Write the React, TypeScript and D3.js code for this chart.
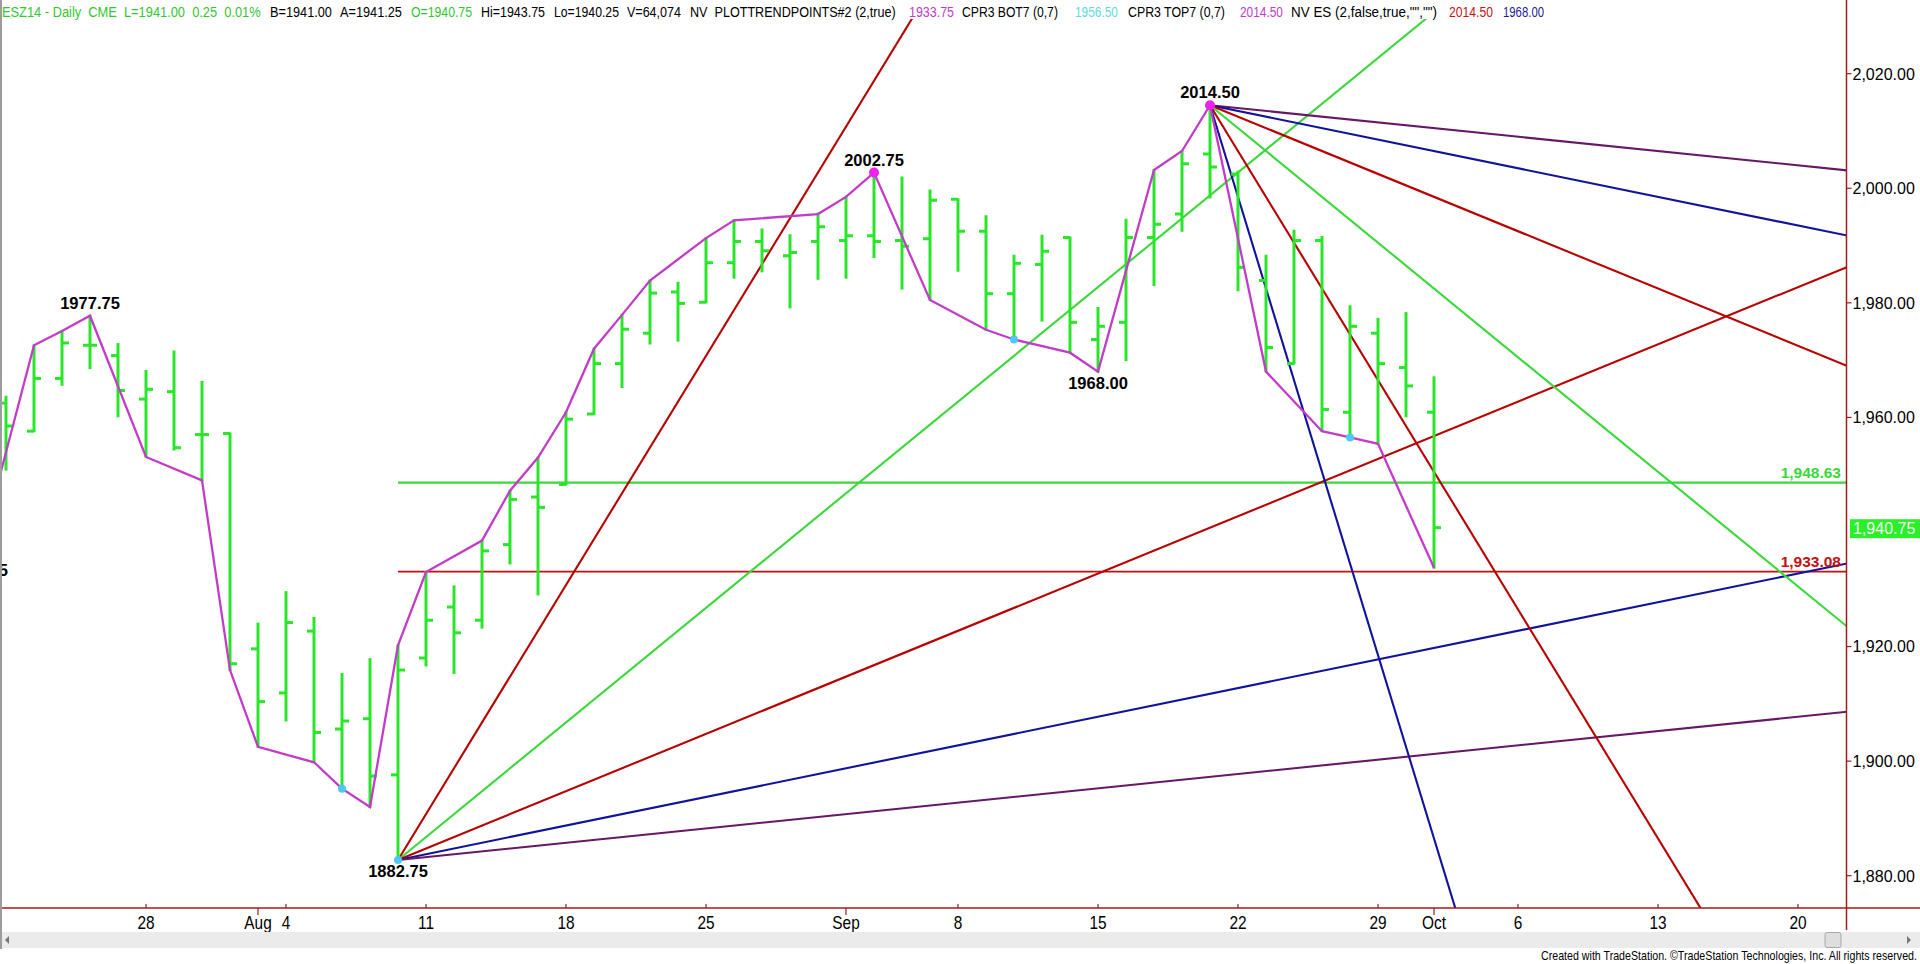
import React from "react";
import * as d3 from "d3";

// ---------- data ----------
const tradingDays = [
  "07-21","07-22","07-23","07-24","07-25","07-28","07-29","07-30","07-31","08-01",
  "08-04","08-05","08-06","08-07","08-08","08-11","08-12","08-13","08-14","08-15",
  "08-18","08-19","08-20","08-21","08-22","08-25","08-26","08-27","08-28","08-29",
  "09-02","09-03","09-04","09-05","09-08","09-09","09-10","09-11","09-12","09-15",
  "09-16","09-17","09-18","09-19","09-22","09-23","09-24","09-25","09-26","09-29",
  "09-30","10-01","10-02","10-03","10-06","10-07","10-08","10-09","10-10","10-13",
  "10-14","10-15","10-16","10-17","10-20","10-21","10-22","10-23",
];

const opens = [1962.5,1957.6,1966.8,1972.6,1970.8,1963.2,1964.5,1957.0,1957.2,1919.6,
  1911.9,1922.7,1905.6,1907.4,1897.6,1918.0,1926.9,1924.6,1937.8,1946.1,
  1948.3,1960.6,1969.4,1974.7,1981.9,1980.1,1987.0,1990.7,1988.2,1990.7,
  1990.9,1991.7,1990.9,1991.2,1998.1,1992.5,1981.6,1986.7,1991.4,1973.6,
  1976.6,1991.4,1995.5,2006.0,2002.5,1983.9,1969.4,1990.9,1960.9,1974.7,
  1968.7,1960.9];
const highs = [1963.6,1972.6,1975.1,1977.75,1972.8,1968.1,1971.5,1966.2,1957.2,1924.0,
  1929.5,1925.0,1915.2,1917.8,1920.2,1933.0,1930.5,1938.5,1947.2,1953.0,
  1960.9,1972.0,1977.9,1983.9,1983.5,1991.3,1994.4,1992.8,1991.8,1995.6,
  1998.5,2002.75,2001.9,1999.6,1998.1,1995.1,1988.2,1991.7,1991.4,1979.1,
  1994.5,2003.2,2006.5,2014.5,2002.9,1988.2,1992.6,1991.5,1979.4,1977.2,
  1978.2,1967.0];
const lows = [1950.9,1957.6,1965.7,1968.6,1960.2,1953.1,1954.4,1949.0,1915.9,1902.5,
  1907.1,1899.8,1895.2,1892.0,1882.75,1916.7,1915.4,1923.3,1934.5,1929.1,
  1948.3,1960.6,1965.3,1972.9,1973.4,1980.1,1984.4,1985.5,1979.2,1984.2,
  1984.4,1988.0,1982.5,1980.5,1985.6,1975.3,1973.6,1976.9,1971.3,1968.0,
  1970.0,1983.1,1992.6,1998.4,1982.2,1968.0,1969.4,1957.6,1956.5,1955.4,
  1960.2,1933.75];
const closes = [1958.5,1966.8,1973.0,1972.6,1964.7,1964.9,1954.7,1957.0,1917.0,1910.4,
  1924.2,1905.0,1907.0,1897.4,1915.9,1924.6,1922.4,1936.7,1945.7,1944.3,
  1959.7,1969.4,1975.4,1981.7,1979.9,1987.0,1990.7,1989.1,1988.8,1993.3,
  1991.7,1990.7,1989.9,1997.9,1992.5,1981.6,1986.9,1989.0,1976.6,1975.9,
  1991.4,1993.7,2004.3,2003.7,1986.2,1972.2,1990.9,1961.4,1975.9,1969.4,
  1965.5,1940.75];

const swingIdx = [-1,1,2,3,5,7,8,9,11,12,13,14,15,17,18,19,20,21,22,23,25,26,29,30,31,33,35,36,38,39,41,42,43,45,47,48,49,51];
const swingVals = [1935.25,1972.6,1975.1,1977.75,1953.1,1949.0,1915.9,1902.5,1899.8,1895.2,1892.0,1920.2,1933.0,1938.5,1947.2,1953.0,1960.9,1972.0,1977.9,1983.9,1991.3,1994.4,1995.5,1998.5,2002.75,1980.5,1975.3,1973.6,1971.3,1968.0,2003.2,2006.5,2014.5,1968.0,1957.6,1956.5,1955.4,1933.75];

const pinkDotIdx = [31, 43];
const pinkDotVals = [2002.75, 2014.5];
const cyanDotIdx = [12, 14, 36, 48];
const cyanDotVals = [1895.2, 1882.75, 1973.6, 1956.5];

const pivotLabelIdx = [-1, 3, 14, 31, 39, 43];
const pivotLabelVals = [1935.25, 1977.75, 1882.75, 2002.75, 1968.0, 2014.5];
const pivotLabelSide = ["below", "above", "below", "above", "below", "above"];

const lowAnchorIdx = 14;
const lowAnchorVal = 1882.75;
const lowFanRates = [8, 4, 2, 1, 0.5];
const highAnchorIdx = 43;
const highAnchorVal = 2014.5;
const highFanRates = [-0.5, -1, -2, -4, -8, -16];

const levelValues = [1948.63, 1933.08];
const levelStartIdx = 14;
const lastPrice = 1940.75;

const priceTicks = [1880, 1900, 1920, 1940, 1960, 1980, 2000, 2020];
const weekTickDays = ["07-28","08-04","08-11","08-18","08-25","09-08","09-15","09-22","09-29","10-06","10-13","10-20"];
const weekTickLabels = ["28","4","11","18","25","8","15","22","29","6","13","20"];
const monthTickDays = ["08-01","09-02","10-01"];
const monthTickLabels = ["Aug","Sep","Oct"];

const headerTexts = [
  "ESZ14 - Daily  CME  L=1941.00  0.25  0.01%", "B=1941.00", "A=1941.25", "O=1940.75",
  "Hi=1943.75", "Lo=1940.25", "V=64,074", "NV  PLOTTRENDPOINTS#2 (2,true)", "1933.75",
  "CPR3 BOT7 (0,7)", "1956.50", "CPR3 TOP7 (0,7)", "2014.50", 'NV ES (2,false,true,"","")',
  "2014.50", "1968.00",
];
const footerText = "Created with TradeStation. ©TradeStation Technologies, Inc. All rights reserved.";

// ---------- styles / layout ----------
const headerX = [2, 270, 340, 411, 481, 554, 627, 690, 909, 962, 1075, 1128, 1240, 1291, 1449, 1503];
const headerW = [259, 62, 62, 61, 64, 65, 54, 206, 45, 96, 43, 97, 43, 146, 44, 41];
const headerColors = ["#33c633", "#000", "#000", "#33c633", "#000", "#000", "#000", "#000", "#c33cc8",
  "#000", "#5fdcdc", "#000", "#c33cc8", "#000", "#cc1111", "#1c1c8e"];

const GREEN_BAR = "#2ae62a";
const MAGENTA = "#c33cc8";
const LGREEN = "#3ad83a";
const DRED = "#b80000";
const NAVY = "#12129c";
const PURPLE = "#661866";
const AXIS = "#a31a1a";
const lowFanColors = [DRED, LGREEN, DRED, NAVY, PURPLE];
const highFanColors = [PURPLE, NAVY, DRED, LGREEN, DRED, NAVY];
const levelColors = [LGREEN, "#c41010"];

const W = 1920;
const H = 964;
const PLOT_L = 2;
const PLOT_R = 1846.5;
const PLOT_T = 19;
const PLOT_B = 908;
const FONT = "'Liberation Sans', Arial, sans-serif";

function FitText(props: { x: number; y: number; w: number; fontSize: number; fill: string; children: string }) {
  const ref = React.useRef<SVGTextElement>(null);
  const [s, setS] = React.useState(1);
  React.useLayoutEffect(() => {
    if (ref.current) {
      const len = ref.current.getComputedTextLength();
      if (len > 0) setS(props.w / len);
    }
  }, [props.w, props.children]);
  return (
    <text ref={ref} transform={`translate(${props.x},${props.y}) scale(${s},1)`} fontSize={props.fontSize}
      fill={props.fill} style={{ whiteSpace: "pre" }}>
      {props.children}
    </text>
  );
}

export default function App() {
  const x = d3.scaleLinear().domain([0, 64]).range([6, 1798]);
  const y = d3.scaleLinear().domain([1880, 2020]).range([875.7, 73.7]);
  const di = (d: string) => tradingDays.indexOf(d);

  const swingLine = d3
    .line<number>()
    .x((_, k) => x(swingIdx[k]))
    .y((v) => y(v))(swingVals) as string;

  const fmt = d3.format(",.2f");
  const tickLen = 7;

  return (
    <svg
      width={W}
      height={H}
      style={{ position: "absolute", left: 0, top: 0, background: "#fff", display: "block" }}
      fontFamily={FONT}
    >
      <defs>
        <clipPath id="plot">
          <rect x={PLOT_L} y={PLOT_T} width={PLOT_R - PLOT_L} height={PLOT_B - PLOT_T} />
        </clipPath>
      </defs>
      <rect x={0} y={0} width={W} height={H} fill="#fff" />

      <g clipPath="url(#plot)">
        {levelValues.map((v, k) => (
          <line key={"lv" + k} x1={x(levelStartIdx)} x2={PLOT_R} y1={y(v)} y2={y(v)}
            stroke={levelColors[k]} strokeWidth={k === 0 ? 2.2 : 1.8} />
        ))}
        {lowFanRates.map((r, k) => (
          <line key={"lf" + k} x1={x(lowAnchorIdx)} y1={y(lowAnchorVal)}
            x2={x(lowAnchorIdx + 60)} y2={y(lowAnchorVal + r * 60)}
            stroke={lowFanColors[k]} strokeWidth={2.1} />
        ))}
        {highFanRates.map((r, k) => (
          <line key={"hf" + k} x1={x(highAnchorIdx)} y1={y(highAnchorVal)}
            x2={x(highAnchorIdx + 40)} y2={y(highAnchorVal + r * 40)}
            stroke={highFanColors[k]} strokeWidth={2.1} />
        ))}
        {opens.map((o, i) => (
          <g key={"b" + i} stroke={GREEN_BAR} strokeWidth={3}>
            <line x1={x(i)} x2={x(i)} y1={y(highs[i]) - 1} y2={y(lows[i]) + 1} />
            <line x1={x(i) - tickLen} x2={x(i)} y1={y(o)} y2={y(o)} />
            <line x1={x(i)} x2={x(i) + tickLen} y1={y(closes[i])} y2={y(closes[i])} />
          </g>
        ))}
        <path d={swingLine} fill="none" stroke={MAGENTA} strokeWidth={2.3} />
        {cyanDotIdx.map((i, k) => (
          <circle key={"c" + k} cx={x(i)} cy={y(cyanDotVals[k])} r={4} fill="#4fc8f5" />
        ))}
        {pinkDotIdx.map((i, k) => (
          <circle key={"p" + k} cx={x(i)} cy={y(pinkDotVals[k])} r={5} fill="#ee22ee" />
        ))}
      </g>

      {pivotLabelIdx.map((i, k) => (
        <text key={"pl" + k} x={x(i)} y={y(pivotLabelVals[k]) + (pivotLabelSide[k] === "above" ? -7 : 17)}
          textAnchor="middle" fontSize={16.5} fontWeight="bold" fill="#000">
          {pivotLabelVals[k].toFixed(2)}
        </text>
      ))}

      {levelValues.map((v, k) => (
        <text key={"ll" + k} x={1841} y={y(v) - 5} textAnchor="end" fontSize={15.5}
          fontWeight="bold" fill={levelColors[k]}>
          {fmt(v)}
        </text>
      ))}

      {headerTexts.map((t, k) => (
        <FitText key={"h" + k} x={headerX[k]} y={17} w={headerW[k]} fontSize={15.5} fill={headerColors[k]}>
          {t}
        </FitText>
      ))}

      <line x1={PLOT_R} x2={PLOT_R} y1={0} y2={930} stroke={AXIS} strokeWidth={1.5} />
      {priceTicks
        .filter((v) => Math.abs(y(v) - y(lastPrice)) > 12)
        .map((v) => (
          <g key={"pt" + v}>
            <line x1={PLOT_R} x2={PLOT_R + 5} y1={y(v)} y2={y(v)} stroke={AXIS} strokeWidth={1.2} />
            <text x={PLOT_R + 6} y={y(v) + 5.8} fontSize={16} fill="#000">{fmt(v)}</text>
          </g>
        ))}
      <rect x={1850} y={y(lastPrice) - 8.5} width={70} height={19} fill="#2bef2b" />
      <text x={1853} y={y(lastPrice) + 6.5} fontSize={16} fill="#f4fff4">{fmt(lastPrice)}</text>

      <line x1={0} x2={W} y1={PLOT_B} y2={PLOT_B} stroke={AXIS} strokeWidth={1.5} />
      {weekTickDays.map((d, k) => (
        <g key={"wt" + k}>
          <line x1={x(di(d))} x2={x(di(d))} y1={PLOT_B - 4} y2={PLOT_B} stroke={AXIS} strokeWidth={1.2} />
          <text transform={`translate(${x(di(d))},929) scale(0.88,1)`} textAnchor="middle"
            fontSize={17.5} fill="#000">{weekTickLabels[k]}</text>
        </g>
      ))}
      {monthTickDays.map((d, k) => (
        <g key={"mt" + k}>
          <line x1={x(di(d))} x2={x(di(d))} y1={PLOT_B} y2={PLOT_B + 7} stroke={AXIS} strokeWidth={1.2} />
          <text transform={`translate(${x(di(d))},929) scale(0.88,1)`} textAnchor="middle"
            fontSize={17.5} fill="#000">{monthTickLabels[k]}</text>
        </g>
      ))}

      <line x1={1} x2={1} y1={0} y2={949} stroke="#9c9c9c" strokeWidth={2} />

      <rect x={2} y={932} width={W - 2} height={16} fill="#ebebeb" />
      <path d="M 9 936 L 5 940 L 9 944 Z" fill="#777" />
      <path d="M 1907 936 L 1911 940 L 1907 944 Z" fill="#777" />
      <rect x={1825} y={932.5} width={16} height={15} rx={2} fill="#dedede" stroke="#a8a8a8" />

      <FitText x={1541} y={959.5} w={376} fontSize={12.5} fill="#000">{footerText}</FitText>
    </svg>
  );
}
